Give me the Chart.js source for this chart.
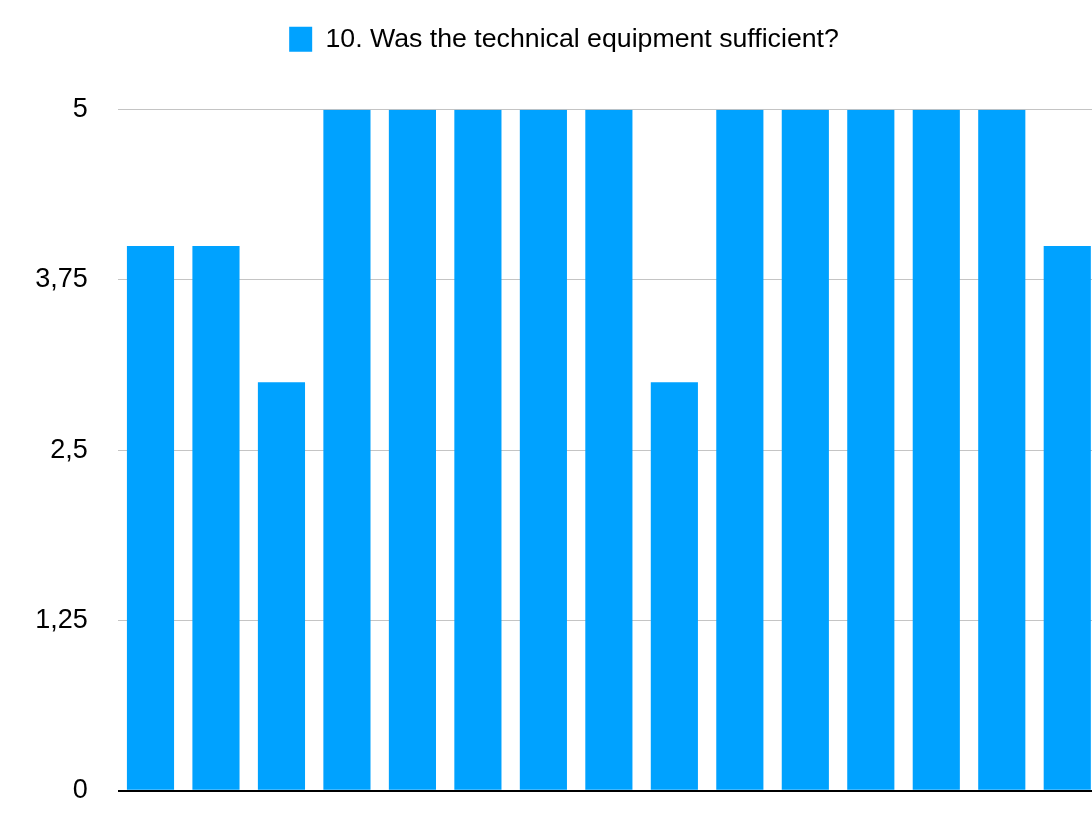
<!DOCTYPE html>
<html>
<head>
<meta charset="utf-8">
<script src="https://cdn.jsdelivr.net/npm/chart.js@4"></script>
<style>
  html, body { margin: 0; padding: 0; background: #fff; overflow: hidden; }
  #wrap { width: 1128px; height: 837px; }
</style>
</head>
<body>
<div id="wrap"><canvas id="equipChart" width="1128" height="837"></canvas></div>
<script>
  // one answer per respondent, question 10
  const respondents = ["1", "2", "3", "4", "5", "6", "7", "8", "9", "10", "11", "12", "13", "14", "15"];
  const scores = [4, 4, 3, 5, 5, 5, 5, 5, 3, 5, 5, 5, 5, 5, 4];
  const yTicks = [0, 1.25, 2.5, 3.75, 5];
  const seriesName = "10. Was the technical equipment sufficient?";

  Chart.defaults.font.family = "'Liberation Sans', Arial, Helvetica, sans-serif";
  Chart.defaults.color = "#000";

  // legend sits a little right of centre and leaves a gap above the plot
  const legendSpacer = {
    id: "legendSpacer",
    beforeInit(chart) {
      const fit = chart.legend.fit;
      chart.legend.fit = function () {
        fit.bind(chart.legend)();
        this.height += 47;
      };
    },
    afterLayout(chart) {
      chart.legend.left += 14;
      chart.legend.right += 14;
    }
  };

  const ctx = document.getElementById("equipChart").getContext("2d");

  new Chart(ctx, {
    type: "bar",
    data: {
      labels: respondents,
      datasets: [{
        label: seriesName,
        data: scores,
        backgroundColor: "#00a2ff",
        borderWidth: 0,
        categoryPercentage: 0.72,
        barPercentage: 1.0
      }]
    },
    options: {
      responsive: false,
      animation: false,
      layout: { padding: { top: 16, right: 28, bottom: 11, left: 0 } },
      plugins: {
        legend: {
          labels: {
            boxWidth: 23,
            boxHeight: 25,
            padding: 10,
            font: { size: 26.7 }
          }
        },
        tooltip: { enabled: false }
      },
      scales: {
        x: {
          display: false
        },
        y: {
          min: 0,
          max: 5,
          afterBuildTicks: function (scale) {
            scale.ticks = yTicks.map(v => ({ value: v }));
          },
          afterFit: function (scale) {
            scale.width = 117.75;
          },
          border: { display: false },
          grid: {
            drawTicks: false,
            color: c => c.tick && c.tick.value === 0 ? "#000" : "#c4c4c4",
            lineWidth: c => c.tick && c.tick.value === 0 ? 2 : 1
          },
          ticks: {
            padding: 30,
            font: { size: 27 },
            callback: v => String(v).replace(".", ",")
          }
        }
      }
    },
    plugins: [legendSpacer]
  });
</script>
</body>
</html>
